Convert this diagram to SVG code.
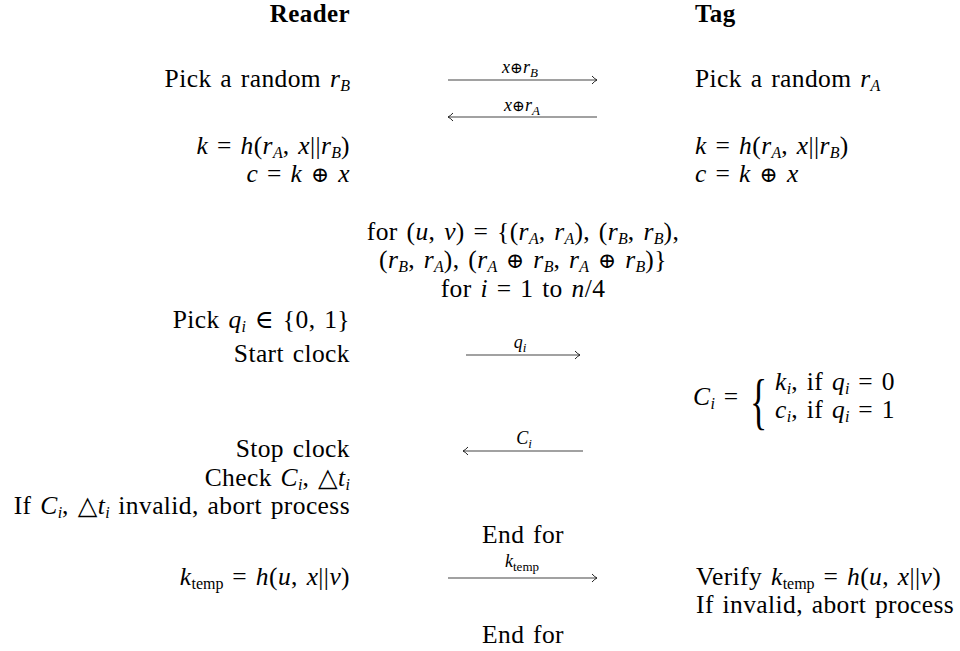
<svg xmlns="http://www.w3.org/2000/svg" width="960" height="651" viewBox="0 0 960 651">
<style>
.t{font-family:"Liberation Serif","DejaVu Serif",serif;font-size:25.5px;letter-spacing:0.4px;word-spacing:2px;fill:#000}
.l{font-family:"Liberation Serif","DejaVu Serif",serif;font-size:18px;fill:#000;text-anchor:middle}
.e{text-anchor:end}
.m{text-anchor:middle}
.i{font-style:italic}
.s{font-size:16px;letter-spacing:0}
.ss{font-size:13px}
.b{font-weight:bold;font-size:25px}
.o{font-family:"DejaVu Serif",serif;font-size:0.85em}
.arr{stroke:#444;stroke-width:1.2;fill:none;marker-end:url(#ah)}
</style>
<defs>
<marker id="ah" markerUnits="userSpaceOnUse" markerWidth="12" markerHeight="12" viewBox="-8 -6 10 12" refX="0" refY="0" orient="auto">
<path d="M-5,-4 Q-2,-0.8 0,0 Q-2,0.8 -5,4" stroke="#222" stroke-width="1" fill="none"/>
</marker>
</defs>
<rect width="960" height="651" fill="#fff"/>
<g id="connectors">
<path class="arr" d="M448,80 H597"/>
<path class="arr" d="M597,117 H448"/>
<path class="arr" d="M466,355 H580"/>
<path class="arr" d="M583,451 H463"/>
<path class="arr" d="M448,578 H597"/>
<text class="l" x="520" y="73"><tspan class="i">x</tspan><tspan class="o">⊕</tspan><tspan class="i">r</tspan><tspan class="i ss" dy="4">B</tspan></text>
<text class="l" x="522" y="111"><tspan class="i">x</tspan><tspan class="o">⊕</tspan><tspan class="i">r</tspan><tspan class="i ss" dy="4">A</tspan></text>
<text class="l" x="520" y="348"><tspan class="i">q</tspan><tspan class="i ss" dy="4">i</tspan></text>
<text class="l" x="524" y="444"><tspan class="i">C</tspan><tspan class="i ss" dy="4">i</tspan></text>
<text class="l" x="522" y="567"><tspan class="i">k</tspan><tspan class="ss" dy="4">temp</tspan></text>
</g>
<g id="reader">
<text class="t e b" x="350" y="22">Reader</text>
<text class="t e" x="350" y="87">Pick a random <tspan class="i">r</tspan><tspan class="i s" dy="4">B</tspan></text>
<text class="t e" x="350" y="154"><tspan class="i">k</tspan> = <tspan class="i">h</tspan>(<tspan class="i">r</tspan><tspan class="i s" dy="4">A</tspan><tspan dy="-4">, </tspan><tspan class="i">x</tspan>||<tspan class="i">r</tspan><tspan class="i s" dy="4">B</tspan><tspan dy="-4">)</tspan></text>
<text class="t e" x="350" y="182"><tspan class="i">c</tspan> = <tspan class="i">k</tspan> <tspan class="o">⊕</tspan> <tspan class="i">x</tspan></text>
<text class="t e" x="350" y="328">Pick <tspan class="i">q</tspan><tspan class="i s" dy="4">i</tspan><tspan dy="-4"> ∈ {0, 1}</tspan></text>
<text class="t e" x="350" y="362">Start clock</text>
<text class="t e" x="350" y="457">Stop clock</text>
<text class="t e" x="350" y="486">Check <tspan class="i">C</tspan><tspan class="i s" dy="4">i</tspan><tspan dy="-4">, △</tspan><tspan class="i">t</tspan><tspan class="i s" dy="4">i</tspan></text>
<text class="t e" x="350" y="514">If <tspan class="i">C</tspan><tspan class="i s" dy="4">i</tspan><tspan dy="-4">, △</tspan><tspan class="i">t</tspan><tspan class="i s" dy="4">i</tspan><tspan dy="-4"> invalid, abort process</tspan></text>
<text class="t e" x="350" y="585"><tspan class="i">k</tspan><tspan class="s" dy="4">temp</tspan><tspan dy="-4"> = </tspan><tspan class="i">h</tspan>(<tspan class="i">u</tspan>, <tspan class="i">x</tspan>||<tspan class="i">v</tspan>)</text>
</g>
<g id="loop">
<text class="t m" x="523" y="240">for (<tspan class="i">u</tspan>, <tspan class="i">v</tspan>) = {(<tspan class="i">r</tspan><tspan class="i s" dy="4">A</tspan><tspan dy="-4">, </tspan><tspan class="i">r</tspan><tspan class="i s" dy="4">A</tspan><tspan dy="-4">), (</tspan><tspan class="i">r</tspan><tspan class="i s" dy="4">B</tspan><tspan dy="-4">, </tspan><tspan class="i">r</tspan><tspan class="i s" dy="4">B</tspan><tspan dy="-4">),</tspan></text>
<text class="t m" x="523" y="268">(<tspan class="i">r</tspan><tspan class="i s" dy="4">B</tspan><tspan dy="-4">, </tspan><tspan class="i">r</tspan><tspan class="i s" dy="4">A</tspan><tspan dy="-4">), (</tspan><tspan class="i">r</tspan><tspan class="i s" dy="4">A</tspan><tspan dy="-4"> </tspan><tspan class="o">⊕</tspan> <tspan class="i">r</tspan><tspan class="i s" dy="4">B</tspan><tspan dy="-4">, </tspan><tspan class="i">r</tspan><tspan class="i s" dy="4">A</tspan><tspan dy="-4"> </tspan><tspan class="o">⊕</tspan> <tspan class="i">r</tspan><tspan class="i s" dy="4">B</tspan><tspan dy="-4">)}</tspan></text>
<text class="t m" x="523" y="297">for <tspan class="i">i</tspan> = 1 to <tspan class="i">n</tspan>/4</text>
<text class="t m" x="523" y="543">End for</text>
<text class="t m" x="523" y="643">End for</text>
</g>
<g id="tag">
<text class="t b" x="695" y="22">Tag</text>
<text class="t" x="695" y="87">Pick a random <tspan class="i">r</tspan><tspan class="i s" dy="4">A</tspan></text>
<text class="t" x="695" y="154"><tspan class="i">k</tspan> = <tspan class="i">h</tspan>(<tspan class="i">r</tspan><tspan class="i s" dy="4">A</tspan><tspan dy="-4">, </tspan><tspan class="i">x</tspan>||<tspan class="i">r</tspan><tspan class="i s" dy="4">B</tspan><tspan dy="-4">)</tspan></text>
<text class="t" x="695" y="182"><tspan class="i">c</tspan> = <tspan class="i">k</tspan> <tspan class="o">⊕</tspan> <tspan class="i">x</tspan></text>
<g id="response">
<text class="t" x="693" y="405"><tspan class="i">C</tspan><tspan class="i s" dy="4">i</tspan><tspan dy="-4"> =</tspan></text>
<text class="t" x="0" y="0" transform="translate(750,422) scale(1,1.7)" style="font-size:36px;letter-spacing:0">{</text>
<text class="t" x="775" y="390"><tspan class="i">k</tspan><tspan class="i s" dy="4">i</tspan><tspan dy="-4">, if </tspan><tspan class="i">q</tspan><tspan class="i s" dy="4">i</tspan><tspan dy="-4"> = 0</tspan></text>
<text class="t" x="775" y="418"><tspan class="i">c</tspan><tspan class="i s" dy="4">i</tspan><tspan dy="-4">, if </tspan><tspan class="i">q</tspan><tspan class="i s" dy="4">i</tspan><tspan dy="-4"> = 1</tspan></text>
</g>
<text class="t" x="696" y="585">Verify <tspan class="i">k</tspan><tspan class="s" dy="4">temp</tspan><tspan dy="-4"> = </tspan><tspan class="i">h</tspan>(<tspan class="i">u</tspan>, <tspan class="i">x</tspan>||<tspan class="i">v</tspan>)</text>
<text class="t" x="696" y="613">If invalid, abort process</text>
</g>
</svg>
